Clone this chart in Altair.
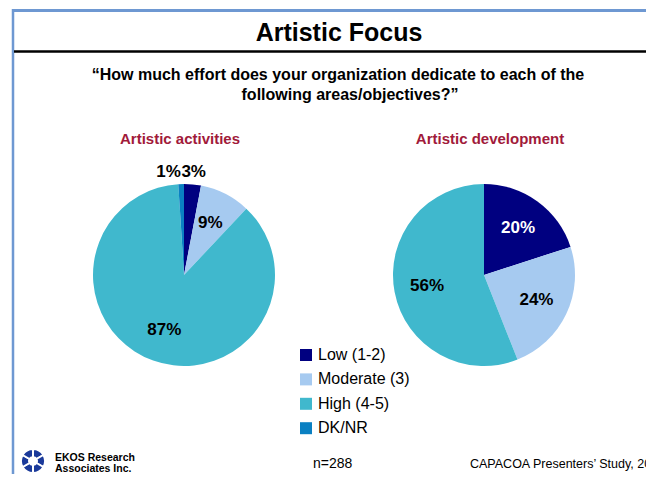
import altair as alt
import pandas as pd

# ---------------- data ----------------
categories = ["Low (1-2)", "Moderate (3)", "High (4-5)", "DK/NR"]
colors = ["#000080", "#A6CAF0", "#40B8CD", "#0A80C2"]
pies = ["Artistic activities", "Artistic development"]
activities = [3, 9, 87, 1]
development = [20, 24, 56, 0]

title_text = "Artistic Focus"
subtitle_lines = [
    "\u201cHow much effort does your organization dedicate to each of the",
    "following areas/objectives?\u201d",
]
logo_lines = ["EKOS Research", "Associates Inc."]
logo_segments = [1, 1, 1, 1, 1, 1]
sample_note = "n=288"
source_note = "CAPACOA Presenters\u2019 Study, 2011"

df = pd.DataFrame({
    "pie": [pies[0]] * 4 + [pies[1]] * 4,
    "category": categories * 2,
    "value": activities + development,
    "ord": list(range(4)) * 2,
})

FONT = "Liberation Sans"
W, H = 638, 466
R = 91

color_scale = alt.Scale(domain=categories, range=colors)
legend = alt.Legend(
    orient="none", legendX=290, legendY=339, title=None,
    symbolType="square", symbolSize=144, symbolStrokeWidth=0,
    labelFontSize=16, labelFont=FONT, labelColor="black",
    labelOffset=4, rowPadding=8.4, padding=0,
)

dummy = pd.DataFrame({"a": [0]})


def label(text, x, y, size, weight="normal", color="black", align="center"):
    return alt.Chart(pd.DataFrame({"t": [text]})).mark_text(
        font=FONT, fontSize=size, fontWeight=weight, color=color,
        align=align, baseline="alphabetic",
    ).encode(text="t:N", x=alt.value(x), y=alt.value(y))


def pie_layers(name, cx, cy):
    base = (
        alt.Chart(df)
        .transform_filter(alt.datum.pie == name)
        .transform_window(cum="sum(value)", sort=[alt.SortField("ord")], frame=[None, 0])
        .transform_calculate(mid="datum.cum - datum.value / 2", lab="datum.value + '%'")
    )
    theta = alt.Theta("value:Q", stack=True)
    order = alt.Order("ord:Q")
    arcs = base.mark_arc(outerRadius=R).encode(
        theta=theta, order=order,
        color=alt.Color("category:N", scale=color_scale, legend=legend),
        x=alt.value(cx), y=alt.value(cy),
    )
    txt_style = dict(font=FONT, fontSize=17, fontWeight="bold", baseline="middle")
    inside = base.transform_calculate(
        t="datum.value >= 5 ? datum.lab : ''"
    ).mark_text(radius=58, align="center", **txt_style).encode(
        theta=theta, order=order, detail="category:N", text="t:N",
        color=alt.condition(alt.datum.category == categories[0],
                            alt.value("white"), alt.value("black")),
        x=alt.value(cx), y=alt.value(cy),
    )
    out_right = base.transform_calculate(
        t="datum.value > 0 && datum.value < 5 && datum.mid <= 50 ? datum.lab : ''"
    ).mark_text(radius=103, align="center", color="black", **txt_style).encode(
        theta=theta, order=order, detail="category:N", text="t:N",
        x=alt.value(cx), y=alt.value(cy),
    )
    out_left = base.transform_calculate(
        t="datum.value > 0 && datum.value < 5 && datum.mid > 50 ? datum.lab : ''"
    ).mark_text(radius=103, align="right", color="black", **txt_style).encode(
        theta=theta, order=order, detail="category:N", text="t:N",
        x=alt.value(cx), y=alt.value(cy),
    )
    return [arcs, inside, out_right, out_left]


frame_blue = "#6E98D2"
frame_top = alt.Chart(dummy).mark_rule(color=frame_blue, strokeWidth=3).encode(
    x=alt.value(4), x2=alt.value(W), y=alt.value(2.5))
frame_left = alt.Chart(dummy).mark_rule(color=frame_blue, strokeWidth=2.5).encode(
    x=alt.value(5), y=alt.value(1), y2=alt.value(H))
title_rule = alt.Chart(dummy).mark_rule(color="black", strokeWidth=2.5).encode(
    x=alt.value(6), x2=alt.value(W), y=alt.value(43.5))

logo = alt.Chart(pd.DataFrame({"seg": logo_segments, "i": list(range(len(logo_segments)))})).mark_arc(
    innerRadius=4, outerRadius=12, stroke="white", strokeWidth=2, fill="#1B3A9A"
).encode(theta=alt.Theta("seg:Q", stack=True), order=alt.Order("i:Q"),
         x=alt.value(25), y=alt.value(453))

layers = [frame_top, frame_left, title_rule,
          label(title_text, 331, 33, 25, "bold"),
          label(subtitle_lines[0], 330, 72, 16, "bold"),
          label(subtitle_lines[1], 342, 92, 16, "bold"),
          label(pies[0], 172, 136, 15, "bold", "#A11A3A"),
          label(pies[1], 482, 136, 15, "bold", "#A11A3A")]
layers += pie_layers(pies[0], 176, 267)
layers += pie_layers(pies[1], 476, 267)
layers += [logo,
           label(logo_lines[0], 47, 453, 10.5, "bold", align="left"),
           label(logo_lines[1], 47, 464, 10.5, "bold", align="left"),
           label(sample_note, 305, 460, 14, align="left"),
           label(source_note, 462, 460, 12.5, align="left")]

chart = alt.layer(*layers).resolve_scale(theta="independent").properties(
    width=W, height=H, padding=0,
    autosize=alt.AutoSizeParams(type="none"),
).configure_view(stroke=None)

chart.save("out.html", embed_options={"renderer": "svg", "actions": False})
